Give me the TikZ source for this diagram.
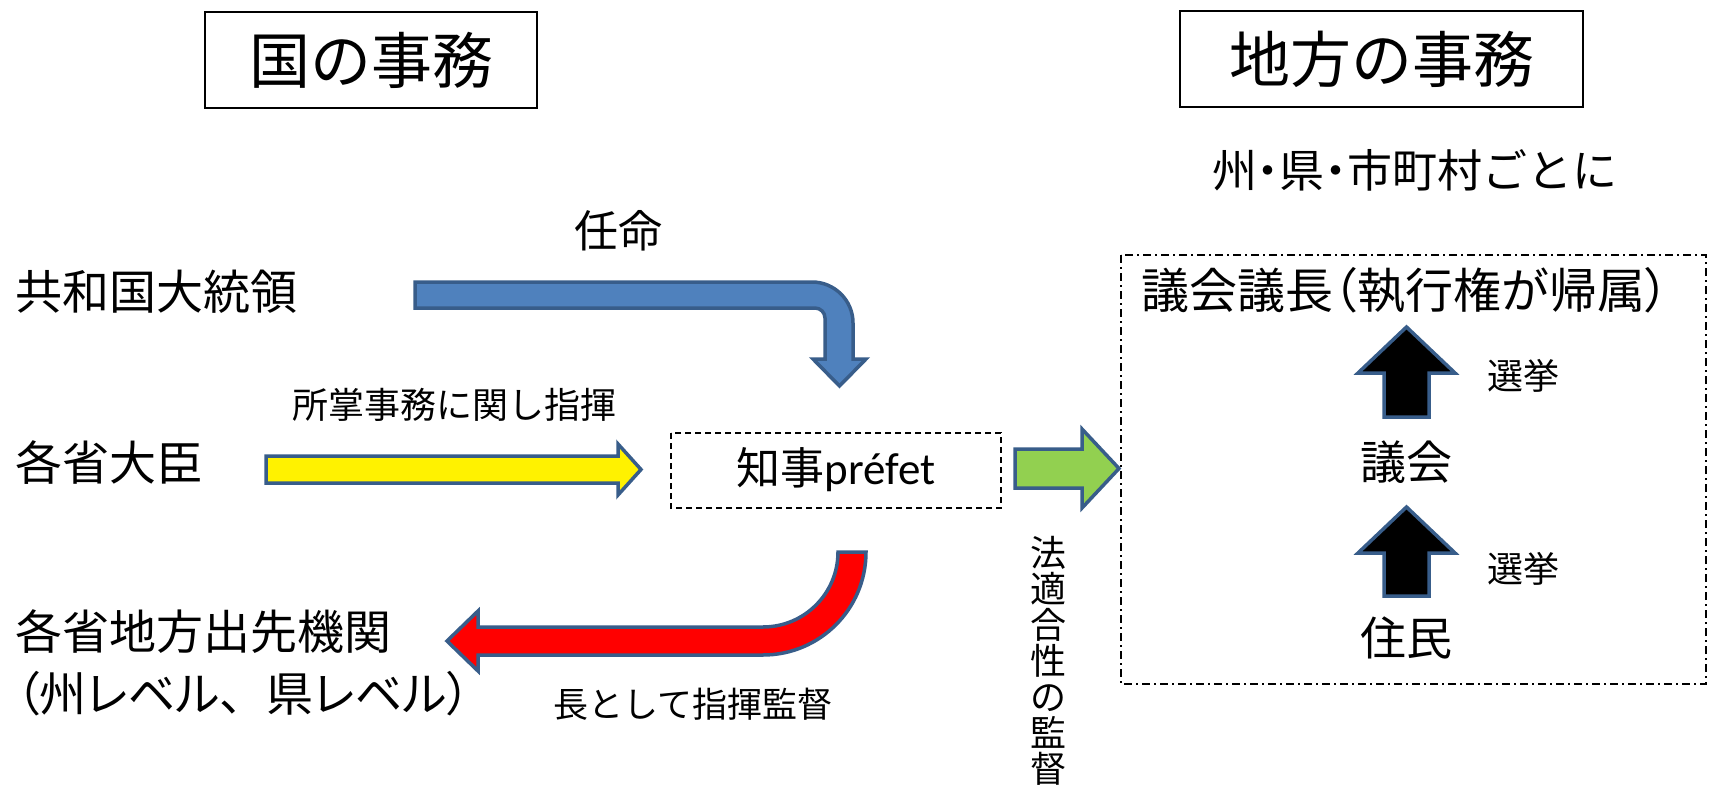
\documentclass[tikz,border=0pt]{standalone}
\usepackage{fontspec}
\setmainfont{Noto Sans CJK JP}
\newfontfamily\lat{Carlito}
\newfontfamily\cjkp[RawFeature=+palt]{Noto Sans CJK JP}
\newcommand\fs[1]{\fontsize{#1}{#1}\selectfont}
\definecolor{arrowedge}{HTML}{385D8A}
\definecolor{blueA}{HTML}{4F81BD}
\definecolor{greenA}{HTML}{92D050}
\begin{document}
\begin{tikzpicture}[x=1pt,y=-1pt,
  lbl/.style={inner sep=0pt, outer sep=0pt},
  titlebox/.style={draw, line width=1.5pt, inner sep=0pt, minimum height=96pt},
  blockarrow/.style={draw=arrowedge, line width=3.5pt, line join=miter},
]
\useasboundingbox[fill=white] (0,0) rectangle (1709,795);

% title boxes
\node[titlebox, minimum width=332pt] (kuni) at (371,60) {\fs{61}国の事務};
\node[titlebox, minimum width=403pt] (chiho) at (1381.5,59) {\fs{61}地方の事務};
\node[lbl] (unit) at (1414.5,170) {\fs{45}州{\cjkp ・}県{\cjkp ・}市町村ごとに};

% left labels
\node[lbl, anchor=west] (pres) at (16,292) {\fs{47}共和国大統領};
\node[lbl, anchor=west] (min) at (16,463) {\fs{47}各省大臣};
\node[lbl, anchor=west] (dekisaki) at (16,632) {\fs{47}各省地方出先機関};
\node[lbl, anchor=west] (level) at (16,694) {\fs{47}{\cjkp （州レベル}、{\cjkp 県レベル）}};

% arrow labels
\node[lbl] (ninmei) at (618,231) {\fs{44}任命};
\node[lbl] (shisho) at (454,405) {\fs{36}所掌事務に関し指揮};
\node[lbl] (cho) at (693,704) {\fs{35}長として指揮監督};
\node[lbl, align=center, font=\fs{36}] (hou) at (1048,661) {法\\適\\合\\性\\の\\監\\督};

% prefet box
\draw[line width=1.5pt, dash pattern=on 6pt off 4pt] (671,433) rectangle (1001,508);
\node[lbl] (prefet) at (836,470) {\fs{44}知事{\lat\fs{45}préfet}};

% local box
\draw[line width=1.5pt, dash pattern=on 8pt off 4pt on 2pt off 4pt] (1121,255) rectangle (1706,684);
\node[lbl, anchor=west] (gicho) at (1141,290) {\fs{48}議会議長{\cjkp （}執行権が帰属{\cjkp ）}};
\node[lbl] (gikai) at (1406,462) {\fs{46}議会};
\node[lbl] (jumin) at (1406,638) {\fs{46}住民};
\node[lbl] (senkyo1) at (1523,376) {\fs{36}選挙};
\node[lbl] (senkyo2) at (1523,569) {\fs{36}選挙};

% blue bent arrow
\draw[blockarrow, fill=blueA] (415,282) -- (812,282)
  .. controls (834.6,282) and (853,300.4) .. (853,323) -- (853,359) -- (866,359)
  -- (839.5,386) -- (813,359) -- (825,359) -- (825,318)
  .. controls (825,312.5) and (820.5,308) .. (815,308) -- (415,308) -- cycle;

% yellow arrow
\draw[blockarrow, fill=yellow] (266,456) -- (618,456) -- (618,444) -- (641,469.5)
  -- (618,495) -- (618,483) -- (266,483) -- cycle;

% green arrow
\draw[blockarrow, fill=greenA] (1015,449) -- (1082,449) -- (1082,429) -- (1119,468.5)
  -- (1082,508) -- (1082,488) -- (1015,488) -- cycle;

% red curved arrow
\draw[blockarrow, fill=red] (838,552) -- (866,552)
  .. controls (866,608.9) and (819.9,655) .. (763,655) -- (478,655) -- (478,671)
  -- (447,641) -- (478,611) -- (478,627) -- (763,627)
  .. controls (804.4,627) and (838,593.4) .. (838,552) -- cycle;

% black election arrows
\draw[blockarrow, fill=black] (1384,417) -- (1384,373) -- (1358,373) -- (1406.5,327)
  -- (1455,373) -- (1429,373) -- (1429,417) -- cycle;
\draw[blockarrow, fill=black] (1384,596) -- (1384,553) -- (1358,553) -- (1406.5,507)
  -- (1455,553) -- (1429,553) -- (1429,596) -- cycle;
\end{tikzpicture}
\end{document}
